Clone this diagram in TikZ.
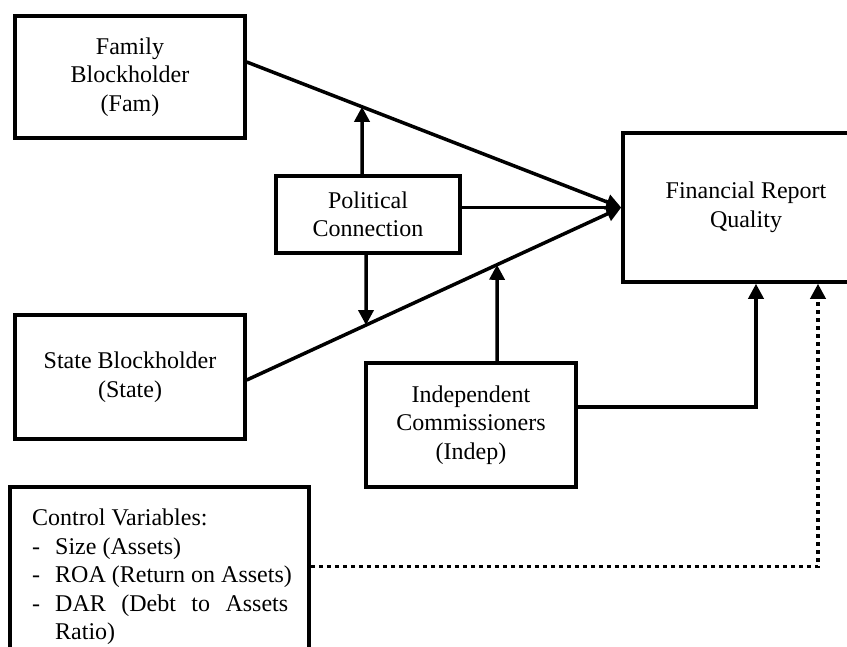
\documentclass[tikz,border=0pt]{standalone}
\usepackage{fontspec}
\setmainfont{Liberation Serif}
\usetikzlibrary{arrows.meta,calc}
\begin{document}
\begin{tikzpicture}[x=1pt,y=-1pt,
  boxnode/.style={draw, line width=3.5pt, align=center, inner sep=0pt,
    font=\fontsize{24}{28.5}\selectfont},
  conn/.style={line width=3.5pt, -{Triangle[length=15pt,width=15pt]}},
  dotconn/.style={line width=3.5pt, dash pattern=on 4pt off 4pt,
    -{Triangle[length=15pt,width=15pt]}}]
\useasboundingbox (0,0) rectangle (847,646);
\clip (0,0) rectangle (847,646);

\node[boxnode, minimum width=230pt, minimum height=122pt] (fam) at (130,77)
  {Family\\Blockholder\\(Fam)};
\node[boxnode, minimum width=230pt, minimum height=124pt] (state) at (130,377)
  {State Blockholder\\(State)};
\node[boxnode, minimum width=184pt, minimum height=77pt] (pc) at (368,214.5)
  {Political\\Connection};
\node[boxnode, minimum width=246pt, minimum height=149pt] (frq) at (746,207.5)
  {Financial Report\\Quality};
\node[boxnode, minimum width=210pt, minimum height=124pt] (indep) at (471,425)
  {Independent\\Commissioners\\(Indep)};
\node[boxnode, minimum width=299pt, minimum height=213pt] (ctrl) at (159.5,593.5) {};
\node[anchor=north west, inner sep=0pt, align=left,
  font=\fontsize{24}{28.5}\selectfont] (ctrltext) at (32,509)
  {Control Variables:\\
   \makebox[23pt][l]{-}Size (Assets)\\
   \makebox[23pt][l]{-}ROA (Return on Assets)\\
   \makebox[23pt][l]{-}\makebox[233pt][s]{DAR (Debt to Assets}\\
   \hspace*{23pt}Ratio)};

\coordinate (frqin) at (frq.west);
\coordinate (famout) at ([yshift=15pt]fam.east);
\coordinate (stateout) at ([yshift=-3pt]state.east);

% main effects
\draw[conn] (famout) -- (frqin);
\draw[conn] (stateout) -- (frqin);
\draw[conn] (pc.east |- frqin) -- (frqin);

% moderation by political connection
\coordinate (pcA) at ([xshift=-6pt]pc.north);
\coordinate (pcB) at ([xshift=-6pt,yshift=200pt]pc.north);
\draw[conn] (pcA) -- (intersection of famout--frqin and pcA--pcB);
\coordinate (pcC) at ([xshift=-2pt]pc.south);
\coordinate (pcD) at ([xshift=-2pt,yshift=-200pt]pc.south);
\draw[conn] (pcC) -- (intersection of stateout--frqin and pcC--pcD);

% independent commissioners
\coordinate (inA) at ([xshift=26pt]indep.north);
\coordinate (inB) at ([xshift=26pt,yshift=300pt]indep.north);
\draw[conn] (inA) -- (intersection of stateout--frqin and inA--inB);
\draw[conn] ([yshift=18pt]indep.east) -| ([xshift=10pt]frq.south);

% control variables
\coordinate (ctrlout) at ($(ctrl.north east)+(0,81)$);
\draw[dotconn] (ctrlout) -| ([xshift=72pt]frq.south);
\end{tikzpicture}
\end{document}
